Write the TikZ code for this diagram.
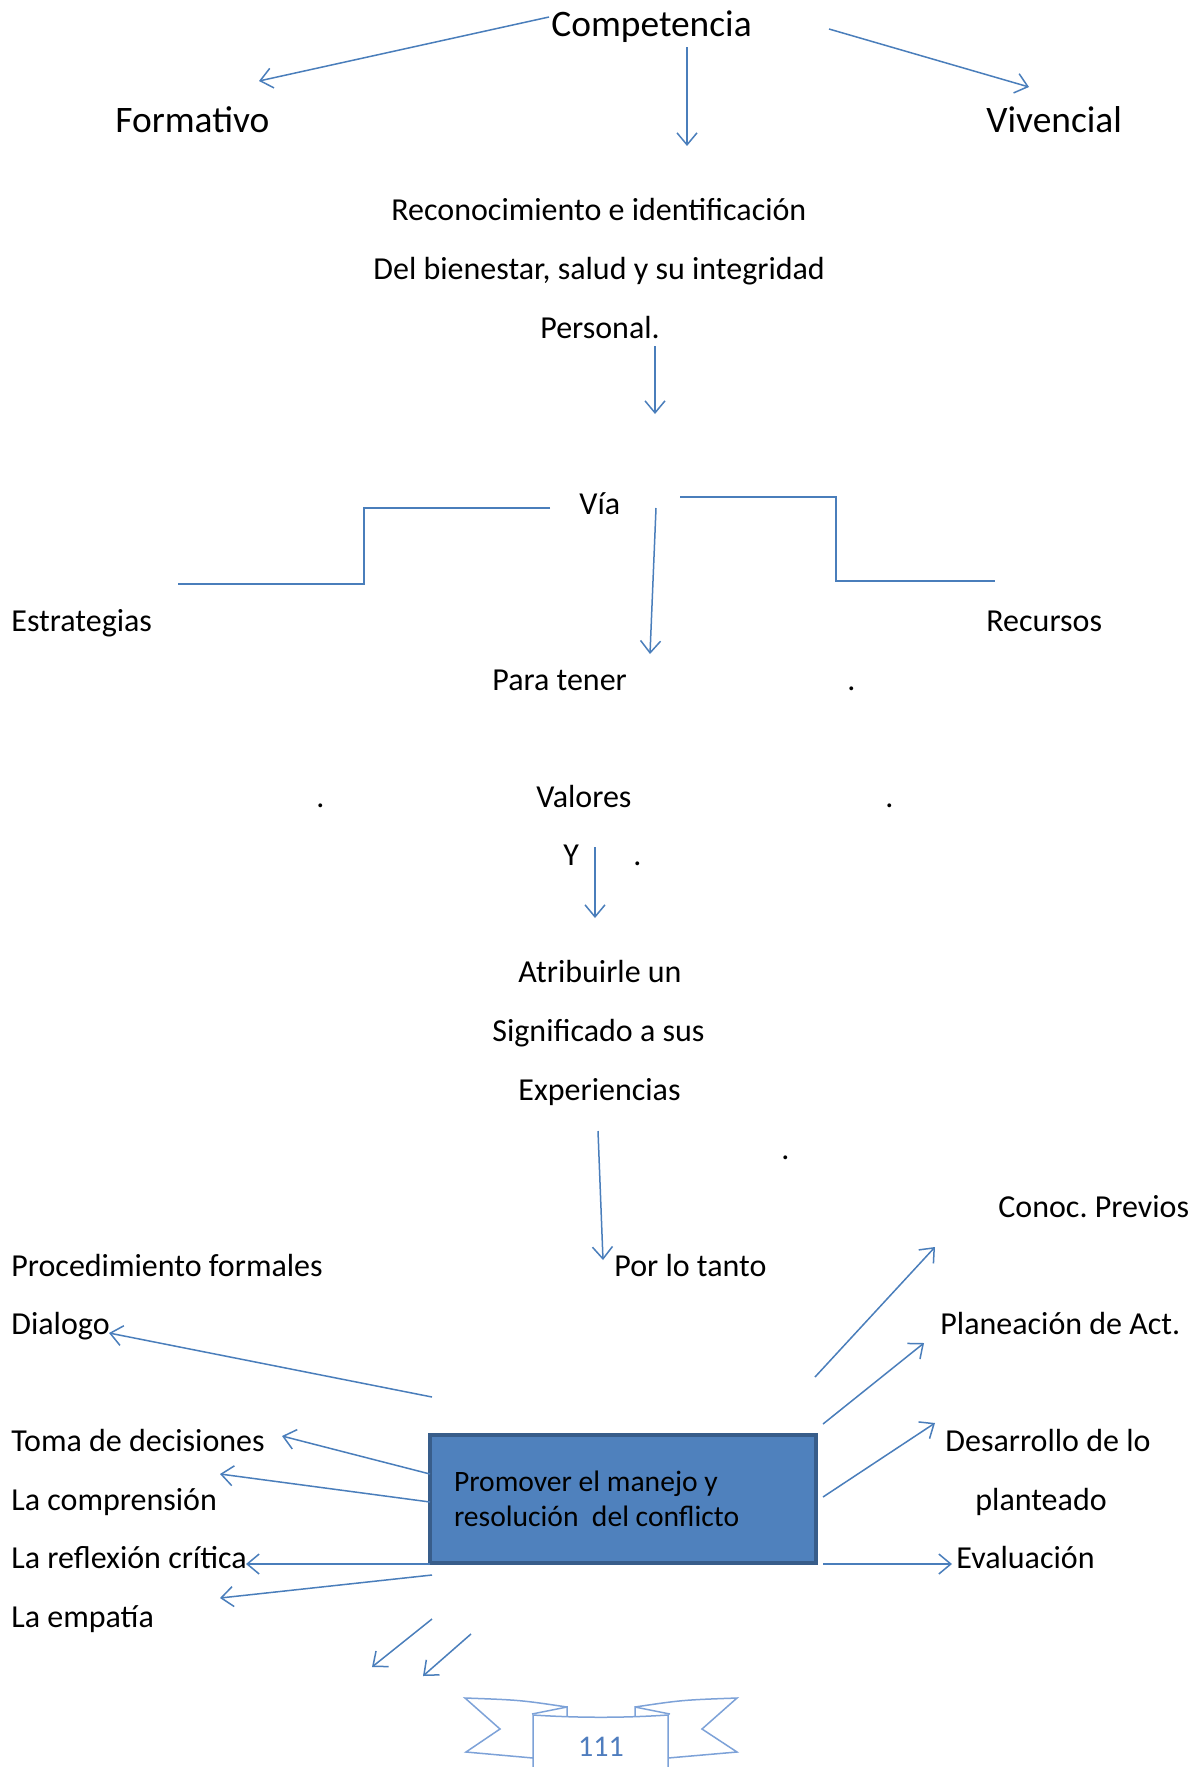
\documentclass[tikz,border=0pt]{standalone}
\usepackage{fontspec}
\setmainfont{Carlito}
\frenchspacing
\usetikzlibrary{arrows.meta}
\definecolor{lineblue}{RGB}{74,126,187}
\definecolor{boxfill}{RGB}{79,129,189}
\definecolor{boxline}{RGB}{56,93,138}
\definecolor{ribbonblue}{RGB}{125,162,216}
\definecolor{numblue}{RGB}{79,125,190}
\tikzset{
  big/.style={font=\fontsize{18.7}{22}\selectfont, inner sep=0pt, anchor=base west},
  txt/.style={font=\fontsize{16}{19}\selectfont, inner sep=0pt, anchor=base west},
  arr/.style={draw=lineblue, line width=0.75pt, -{Straight Barb[length=6pt,width=10pt]}},
  stepline/.style={draw=lineblue, line width=0.9pt},
  boxst/.style={draw=boxline, fill=boxfill, line width=2pt, minimum width=193pt, minimum height=64pt,
    text width=169pt, inner xsep=12pt, align=flush left, font=\fontsize{14.8}{17.5}\selectfont},
  ribbon/.style={draw=ribbonblue, line width=0.75pt, line join=miter}
}
\begin{document}
\begin{tikzpicture}[x=0.5pt,y=-0.5pt]
\useasboundingbox[fill=white] (0,0) rectangle (1199,1767);

% texts
\node[big] (comp) at (551,36) {Competencia};
\node[big] (form) at (115,132) {Formativo};
\node[big] (viv) at (986,132) {Vivencial};
\node[txt] (rec1) at (391,220) {Reconocimiento e identificación};
\node[txt] (rec2) at (373,279) {Del bienestar, salud y su integridad};
\node[txt] (rec3) at (540,338) {Personal.};
\node[txt] (via) at (579,514) {Vía};
\node[txt] (estr) at (11,631) {Estrategias};
\node[txt] (recu) at (986,631) {Recursos};
\node[txt] (para) at (492,690) {Para tener};
\node[txt] (d1) at (847,690) {.};
\node[txt] (d2) at (316,807) {.};
\node[txt] (val) at (536,807) {Valores};
\node[txt] (d3) at (885,807) {.};
\node[txt] (yy) at (563,865) {Y};
\node[txt] (d4) at (633,865) {.};
\node[txt] (atr) at (518,982) {Atribuirle un};
\node[txt] (sig) at (492,1041) {Significado a sus};
\node[txt] (expe) at (518,1100) {Experiencias};
\node[txt] (d5) at (781,1159) {.};
\node[txt] (conoc) at (998,1217) {Conoc. Previos};
\node[txt] (proc) at (11,1276) {Procedimiento formales};
\node[txt] (por) at (614,1276) {Por lo tanto};
\node[txt] (dial) at (11,1334) {Dialogo};
\node[txt] (plan) at (940,1334) {Planeación de Act.};
\node[txt] (toma) at (11,1451) {Toma de decisiones};
\node[txt] (des1) at (945,1451) {Desarrollo de lo};
\node[txt] (compr) at (11,1510) {La comprensión};
\node[txt] (des2) at (975,1510) {planteado};
\node[txt] (refl) at (11,1568) {La reflexión crítica};
\node[txt] (eval) at (956,1568) {Evaluación};
\node[txt] (emp) at (11,1627) {La empatía};

% central box
\node[boxst] (box) at (623,1499) {Promover el manejo y\\resolución~ del conflicto};

% connector end points
\coordinate (c1s) at (549,17);   \coordinate (c1e) at (259,81);
\coordinate (c2s) at (687,47);   \coordinate (c2e) at (687,146);
\coordinate (c3s) at (829,29);   \coordinate (c3e) at (1029,87);
\coordinate (p1s) at (655,346);  \coordinate (p1e) at (655,414);
\coordinate (v1s) at (656,508);  \coordinate (v1e) at (650,654);
\coordinate (y1s) at (595,847);  \coordinate (y1e) at (595,918);
\coordinate (e1s) at (598,1131); \coordinate (e1e) at (603,1260);
\coordinate (l1s) at (432,1397); \coordinate (l1e) at (109,1333);
\coordinate (l2s) at (430,1474); \coordinate (l2e) at (282,1436);
\coordinate (l3s) at (430,1502); \coordinate (l3e) at (220,1474);
\coordinate (l4s) at (430,1564); \coordinate (l4e) at (246,1564);
\coordinate (l5s) at (432,1575); \coordinate (l5e) at (220,1598);
\coordinate (b1s) at (432,1619); \coordinate (b1e) at (372,1667);
\coordinate (b2s) at (471,1634); \coordinate (b2e) at (423,1676);
\coordinate (r1s) at (815,1377); \coordinate (r1e) at (935,1247);
\coordinate (r2s) at (823,1424); \coordinate (r2e) at (924,1343);
\coordinate (r3s) at (823,1497); \coordinate (r3e) at (935,1423);
\coordinate (r4s) at (823,1564); \coordinate (r4e) at (952,1564);

% connectors
\draw[arr] (c1s) -- (c1e);
\draw[arr] (c2s) -- (c2e);
\draw[arr] (c3s) -- (c3e);
\draw[arr] (p1s) -- (p1e);
\draw[arr] (v1s) -- (v1e);
\draw[arr] (y1s) -- (y1e);
\draw[arr] (e1s) -- (e1e);
\draw[arr] (l1s) -- (l1e);
\draw[arr] (l2s) -- (l2e);
\draw[arr] (l3s) -- (l3e);
\draw[arr] (l4s) -- (l4e);
\draw[arr] (l5s) -- (l5e);
\draw[arr] (b1s) -- (b1e);
\draw[arr] (b2s) -- (b2e);
\draw[arr] (r1s) -- (r1e);
\draw[arr] (r2s) -- (r2e);
\draw[arr] (r3s) -- (r3e);
\draw[arr] (r4s) -- (r4e);

% step lines from Via
\coordinate (sl1) at (550,508); \coordinate (sl2) at (178,584);
\coordinate (sr1) at (680,497); \coordinate (sr2) at (995,581);
\draw[stepline] (sl1) -- (364,508) -- (364,584) -- (sl2);
\draw[stepline] (sr1) -- (836,497) -- (836,581) -- (sr2);

% ribbon (page number)
\draw[ribbon] (567,1707) .. controls (520,1700) .. (465,1698) -- (500,1729) -- (466,1752) .. controls (500,1755) .. (533,1758);
\draw[ribbon] (635,1707) .. controls (682,1700) .. (737,1698) -- (702,1729) -- (737,1752) .. controls (702,1755) .. (668,1758);
\draw[ribbon] (532,1714) -- (567,1707) -- (567,1716);
\draw[ribbon] (670,1714) -- (635,1707) -- (635,1716);
\draw[ribbon] (533,1767) -- (533,1715) .. controls (580,1718) and (622,1718) .. (668,1715) -- (668,1767);
\node[font=\fontsize{15}{18}\selectfont, text=numblue, inner sep=0pt, anchor=base] (num) at (601,1756) {111};
\end{tikzpicture}
\end{document}
